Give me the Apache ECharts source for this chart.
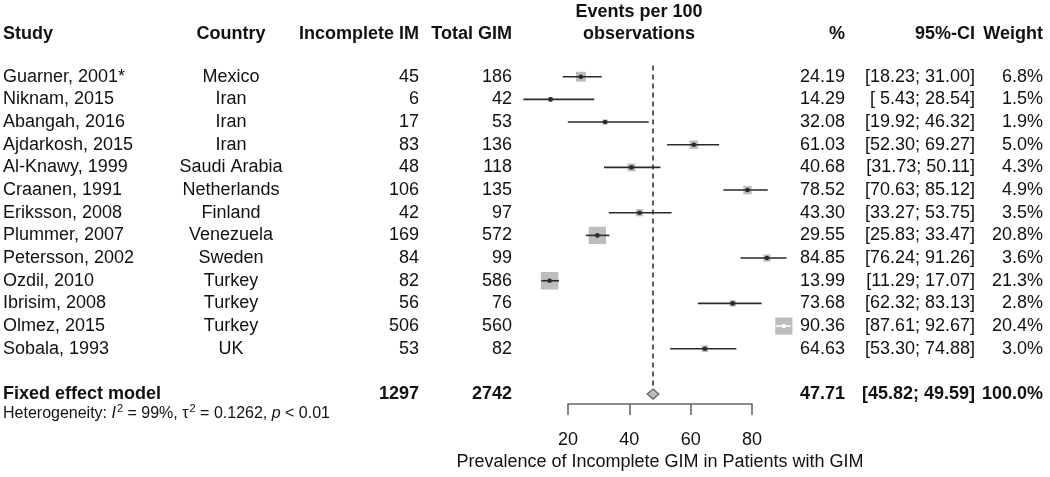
<!DOCTYPE html>
<html>
<head>
<meta charset="utf-8">
<script src="https://cdn.jsdelivr.net/npm/echarts@6/dist/echarts.min.js"></script>
<style>
html,body{margin:0;padding:0;background:#fff;}
#chart{width:1050px;height:477px;}
</style>
</head>
<body>
<div id="chart"></div>
<script>
// ---- data ----
const studies = ['Guarner, 2001*','Niknam, 2015','Abangah, 2016','Ajdarkosh, 2015','Al-Knawy, 1999','Craanen, 1991','Eriksson, 2008','Plummer, 2007','Petersson, 2002','Ozdil, 2010','Ibrisim, 2008','Olmez, 2015','Sobala, 1993'];
const countries = ['Mexico','Iran','Iran','Iran','Saudi Arabia','Netherlands','Finland','Venezuela','Sweden','Turkey','Turkey','Turkey','UK'];
const incompleteIM = [45,6,17,83,48,106,42,169,84,82,56,506,53];
const totalGIM = [186,42,53,136,118,135,97,572,99,586,76,560,82];
const estimates = [24.19,14.29,32.08,61.03,40.68,78.52,43.30,29.55,84.85,13.99,73.68,90.36,64.63];
const lowerCI = [18.23,5.43,19.92,52.30,31.73,70.63,33.27,25.83,76.24,11.29,62.32,87.61,53.30];
const upperCI = [31.00,28.54,46.32,69.27,50.11,85.12,53.75,33.47,91.26,17.07,83.13,92.67,74.88];
const weights = [6.8,1.5,1.9,5.0,4.3,4.9,3.5,20.8,3.6,21.3,2.8,20.4,3.0];
const fixedLabel = 'Fixed effect model';
const fixedIncomplete = 1297;
const fixedTotal = 2742;
const fixedEst = 47.71, fixedLower = 45.82, fixedUpper = 49.59, fixedWeight = 100.0;
const headers = ['Study','Country','Incomplete IM','Total GIM','Events per 100','observations','%','95%-CI','Weight'];
const heterogeneity = {I2:'99%', tau2:'0.1262', p:'< 0.01'};
const xTicks = [20,40,60,80];
const xTitle = 'Prevalence of Incomplete GIM in Patients with GIM';

// ---- layout ----
const FONT = '"Liberation Sans", Arial, sans-serif';
const FS = 18;
const col = {study:3, country:231, inc:419, tot:512, events:639, pct:845, ci:975, wt:1043};
const HEADER_ROW = -1.9, FIXED_ROW = 14, HET_ROW = 14.85;
const SQ_K = 3.8;

function fmt2(v){ return v.toFixed(2); }
function ciText(l,u){ return '[' + fmt2(l).padStart(5,' ') + '; ' + fmt2(u) + ']'; }

const chart = echarts.init(document.getElementById('chart'), null, {renderer:'canvas'});

function txt(x, y, s, align, bold, size){
  return {type:'text', x:x, y:y, silent:true, style:{text:s, fill:'#111', fontFamily:FONT, fontSize:size||FS, fontWeight:bold?'bold':'normal', align:align, verticalAlign:'middle'}};
}

const tableData = [];
tableData.push({value:[0, HEADER_ROW], kind:'header'});
studies.forEach((s,i)=>tableData.push({value:[0,i], kind:'study', idx:i}));
tableData.push({value:[0, FIXED_ROW], kind:'fixed'});
tableData.push({value:[0, HET_ROW], kind:'het'});

const forestData = estimates.map((e,i)=>[e, i, lowerCI[i], upperCI[i], weights[i]]);

const option = {
  animation:false,
  backgroundColor:'#fff',
  grid:[
    {left:506.7, width:306.7, top:8.7, height:453.4, containLabel:false},
    {left:568, width:184, top:403, height:1, containLabel:false}
  ],
  xAxis:[
    {gridIndex:0, type:'value', min:0, max:100, show:false},
    {gridIndex:1, type:'value', min:20, max:80, interval:20,
      axisLine:{show:true, lineStyle:{color:'#666', width:1.6}},
      axisTick:{show:true, length:11, lineStyle:{color:'#666', width:1.6}},
      axisLabel:{show:true, margin:27, color:'#111', fontSize:FS, fontFamily:FONT,
        customValues: xTicks},
      splitLine:{show:false},
      name:xTitle, nameLocation:'middle', nameGap:49,
      nameTextStyle:{color:'#111', fontSize:FS, fontFamily:FONT}
    }
  ],
  yAxis:[
    {gridIndex:0, type:'value', min:-3, max:17, inverse:true, show:false},
    {gridIndex:1, type:'value', min:0, max:1, show:false}
  ],
  series:[
    {
      type:'custom', xAxisIndex:0, yAxisIndex:0, silent:true,
      data:[[fixedEst, -0.5, 13.7]],
      renderItem:function(params, api){
        const p1 = api.coord([api.value(0), api.value(1)]);
        const p2 = api.coord([api.value(0), api.value(2)]);
        return {type:'line', shape:{x1:p1[0], y1:p1[1], x2:p2[0], y2:p2[1]},
          style:{stroke:'#333', lineWidth:1.6, lineDash:[5,4]}};
      }
    },
    {
      type:'custom', xAxisIndex:0, yAxisIndex:0, silent:true,
      data:forestData,
      renderItem:function(params, api){
        const c = api.coord([api.value(0), api.value(1)]);
        const l = api.coord([api.value(2), api.value(1)]);
        const u = api.coord([api.value(3), api.value(1)]);
        const side = SQ_K * Math.sqrt(api.value(4));
        const inside = (u[0]-l[0]) < side;
        const lineCol = inside ? '#fff' : '#2a2a2a';
        return {type:'group', children:[
          {type:'rect', shape:{x:c[0]-side/2, y:c[1]-side/2, width:side, height:side},
            style:{fill:'#bdbdbd', stroke:null}},
          {type:'line', shape:{x1:l[0], y1:l[1], x2:u[0], y2:u[1]},
            style:{stroke:lineCol, lineWidth:1.6}},
          {type:'circle', shape:{cx:c[0], cy:c[1], r:2.3}, style:{fill:lineCol}}
        ]};
      }
    },
    {
      type:'custom', xAxisIndex:0, yAxisIndex:0, silent:true,
      data:[[fixedEst, FIXED_ROW, fixedLower, fixedUpper]],
      renderItem:function(params, api){
        const c = api.coord([api.value(0), api.value(1)]);
        const l = api.coord([api.value(2), api.value(1)]);
        const u = api.coord([api.value(3), api.value(1)]);
        const h = 5;
        return {type:'polygon', shape:{points:[[l[0],c[1]],[c[0],c[1]-h],[u[0],c[1]],[c[0],c[1]+h]]},
          style:{fill:'#bdbdbd', stroke:'#666', lineWidth:1.4}};
      }
    },
    {
      type:'custom', xAxisIndex:0, yAxisIndex:0, silent:true,
      data:tableData,
      renderItem:function(params, api){
        const d = tableData[params.dataIndex];
        const y = api.coord([0, api.value(1)])[1];
        if(d.kind==='header'){
          const yTop = api.coord([0, HEADER_ROW - 0.95])[1];
          return {type:'group', children:[
            txt(col.study, y, headers[0], 'left', true),
            txt(col.country, y, headers[1], 'center', true),
            txt(col.inc, y, headers[2], 'right', true),
            txt(col.tot, y, headers[3], 'right', true),
            txt(col.events, yTop, headers[4], 'center', true),
            txt(col.events, y, headers[5], 'center', true),
            txt(col.pct, y, headers[6], 'right', true),
            txt(col.ci, y, headers[7], 'right', true),
            txt(col.wt, y, headers[8], 'right', true)
          ]};
        }
        if(d.kind==='study'){
          const i = d.idx;
          return {type:'group', children:[
            txt(col.study, y, studies[i], 'left', false),
            txt(col.country, y, countries[i], 'center', false),
            txt(col.inc, y, String(incompleteIM[i]), 'right', false),
            txt(col.tot, y, String(totalGIM[i]), 'right', false),
            txt(col.pct, y, fmt2(estimates[i]), 'right', false),
            txt(col.ci, y, ciText(lowerCI[i], upperCI[i]), 'right', false),
            txt(col.wt, y, weights[i].toFixed(1)+'%', 'right', false)
          ]};
        }
        if(d.kind==='fixed'){
          return {type:'group', children:[
            txt(col.study, y, fixedLabel, 'left', true),
            txt(col.inc, y, String(fixedIncomplete), 'right', true),
            txt(col.tot, y, String(fixedTotal), 'right', true),
            txt(col.pct, y, fmt2(fixedEst), 'right', true),
            txt(col.ci, y, ciText(fixedLower, fixedUpper), 'right', true),
            txt(col.wt, y, fixedWeight.toFixed(1)+'%', 'right', true)
          ]};
        }
        const hs = 16;
        return {type:'text', x:col.study, y:y, silent:true, style:{
          text:'Heterogeneity: {i|I}{s|2} = ' + heterogeneity.I2 + ', τ{s|2} = ' + heterogeneity.tau2 + ', {i|p} ' + heterogeneity.p,
          fill:'#111', fontFamily:FONT, fontSize:hs, align:'left', verticalAlign:'middle', lineHeight:20,
          rich:{
            i:{fontStyle:'italic', fontFamily:FONT, fontSize:hs, fill:'#111', lineHeight:20},
            s:{fontFamily:FONT, fontSize:11, fill:'#111', verticalAlign:'top', lineHeight:20, padding:[0,0,0,1]}
          }
        }};
      }
    },
    {type:'scatter', xAxisIndex:1, yAxisIndex:1, data:[], silent:true}
  ]
};
chart.setOption(option);
</script>
</body>
</html>
